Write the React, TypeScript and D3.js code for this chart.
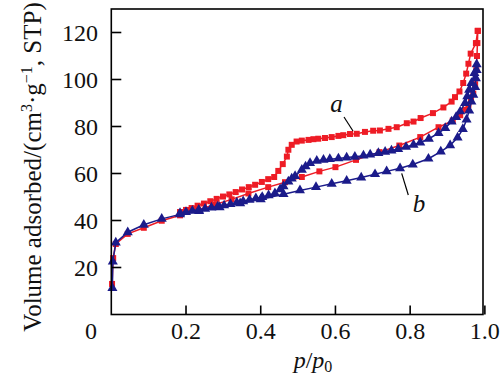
import React from "react";
import * as d3 from "d3";

// Sample a – adsorption branch
const aAdsX = [0.002, 0.005, 0.012, 0.044, 0.087, 0.135, 0.184, 0.23, 0.278, 0.322, 0.367, 0.42, 0.465, 0.51, 0.557, 0.6, 0.655, 0.718, 0.771, 0.827, 0.876, 0.914, 0.934, 0.947, 0.956, 0.963, 0.969, 0.974, 0.977, 0.979, 0.98, 0.981];
const aAdsY = [13, 24, 30, 34.3, 36.9, 39.9, 42.2, 44.5, 46.8, 49, 51.5, 54.2, 56.3, 58.5, 60.9, 62.7, 65.8, 69.1, 71.9, 75.5, 79.7, 82.5, 84.8, 87.1, 89.2, 91.3, 94, 98, 104, 110, 115.5, 120.7];
// Sample a – desorption branch
const aDesX = [0.981, 0.976, 0.962, 0.956, 0.95, 0.942, 0.932, 0.92, 0.911, 0.889, 0.861, 0.828, 0.809, 0.791, 0.764, 0.742, 0.719, 0.701, 0.679, 0.657, 0.639, 0.621, 0.608, 0.59, 0.572, 0.554, 0.541, 0.528, 0.51, 0.496, 0.483, 0.474, 0.47, 0.459, 0.447, 0.436, 0.42, 0.403, 0.385, 0.368, 0.35, 0.333, 0.316, 0.299, 0.282, 0.265, 0.248, 0.231, 0.215, 0.2, 0.184];
const aDesY = [120.7, 115.5, 111, 106.7, 102.5, 98.5, 94.9, 92.5, 90.6, 88.1, 85.7, 83.6, 82.1, 81.4, 79.7, 79, 78.3, 78.2, 77.7, 76.9, 76.8, 76.3, 76, 75.5, 75.1, 74.8, 74.6, 74.3, 74, 73.6, 72.2, 70.1, 67.2, 64, 61.1, 58.5, 57.6, 56.4, 55.2, 54.2, 53.2, 52.1, 51.1, 50.2, 49.2, 48.2, 47.2, 46.3, 45.3, 44.5, 43.6];

// Sample b – adsorption branch
const bAdsX = [0.003, 0.004, 0.012, 0.044, 0.087, 0.135, 0.184, 0.235, 0.29, 0.345, 0.4, 0.461, 0.505, 0.548, 0.59, 0.63, 0.669, 0.706, 0.737, 0.773, 0.807, 0.849, 0.882, 0.907, 0.927, 0.941, 0.951, 0.958, 0.964, 0.969, 0.974, 0.976, 0.978];
const bAdsY = [11.2, 22.5, 30.6, 35, 38.2, 40.7, 42.6, 44, 45.6, 47.3, 49, 51.2, 52.8, 54.2, 55.6, 56.9, 58.3, 59.7, 60.9, 62.2, 63.8, 66.3, 69.3, 72, 75.3, 78.9, 82.9, 86.8, 90.6, 93.5, 96.8, 100.5, 104];
// Sample b – desorption branch
const bDesX = [0.978, 0.972, 0.964, 0.958, 0.953, 0.947, 0.934, 0.923, 0.911, 0.894, 0.876, 0.85, 0.827, 0.809, 0.789, 0.768, 0.75, 0.733, 0.715, 0.693, 0.675, 0.652, 0.63, 0.608, 0.585, 0.568, 0.55, 0.532, 0.52, 0.51, 0.492, 0.483, 0.474, 0.461, 0.452, 0.438, 0.421, 0.404, 0.387, 0.37, 0.353, 0.336, 0.319, 0.302, 0.285, 0.268, 0.251, 0.234, 0.217, 0.2, 0.184];
const bDesY = [106.5, 102.7, 98.5, 95.6, 92.8, 90, 86.4, 84, 82.1, 79.3, 77.2, 74.8, 73.2, 72.2, 71.3, 70.4, 69.8, 69.2, 68.7, 68.1, 67.6, 67.1, 66.8, 66.4, 66.1, 65.8, 65.4, 64.4, 63, 61.6, 58.9, 57.8, 56.6, 54.5, 53.3, 51.6, 50.7, 50, 49.4, 48.8, 48.2, 47.6, 47, 46.4, 45.9, 45.5, 45, 44.5, 44.1, 43.6, 43.2];

const xTicks = [0.2, 0.4, 0.6, 0.8, 1.0];
const yTicks = [20, 40, 60, 80, 100, 120];

const RED = "#ee1c25";
const BLUE = "#1b1b8a";

const W = 500;
const H = 382;
const L = 111.3;
const R = 483;
const T = 9;
const B = 314.5;

export default function App() {
  const x = d3.scaleLinear().domain([0, 0.995]).range([L, R]);
  const y = d3.scaleLinear().domain([0, 130]).range([B, T]);
  const zip = (xs: number[], ys: number[]) => xs.map((v, i) => [v, ys[i]] as [number, number]);
  const line = d3.line<[number, number]>().x((d) => x(d[0])).y((d) => y(d[1]));
  const sq = d3.symbol(d3.symbolSquare, 36)();
  const tri = d3.symbol(d3.symbolTriangle, 44)();

  const series = [
    { data: zip(aAdsX, aAdsY), color: RED, shape: sq },
    { data: zip(aDesX, aDesY), color: RED, shape: sq },
    { data: zip(bAdsX, bAdsY), color: BLUE, shape: tri },
    { data: zip(bDesX, bDesY), color: BLUE, shape: tri },
  ];

  const font = "'Liberation Serif', 'Times New Roman', serif";

  return (
    <svg width={W} height={H} style={{ position: "absolute", left: 0, top: 0, background: "#fff" }} fontFamily={font}>
      <rect x={0} y={0} width={W} height={H} fill="#fff" />
      {series.map((s, i) => (
        <g key={i}>
          <path d={line(s.data) || ""} fill="none" stroke={s.color} strokeWidth={1.5} />
          {s.data.map((d, j) => (
            <path key={j} d={s.shape || ""} transform={`translate(${x(d[0])},${y(d[1])})`} fill={s.color} />
          ))}
        </g>
      ))}
      {/* frame */}
      <rect x={L} y={T} width={R - L} height={B - T} fill="none" stroke="#000" strokeWidth={1.6} />
      {/* y ticks */}
      {yTicks.map((t) => (
        <g key={t}>
          <line x1={L} x2={L + 10} y1={y(t)} y2={y(t)} stroke="#000" strokeWidth={1.6} />
          <text x={98} y={y(t)} dy="0.35em" textAnchor="end" fontSize={24} fill="#111">
            {t}
          </text>
        </g>
      ))}
      <text x={97} y={339} textAnchor="end" fontSize={24} fill="#111">0</text>
      {/* x ticks */}
      {xTicks.map((t) => (
        <g key={t}>
          <line x1={x(t)} x2={x(t)} y1={B} y2={B - 9} stroke="#000" strokeWidth={1.6} />
          <text x={x(t)} y={339} textAnchor="middle" fontSize={24} fill="#111">
            {t.toFixed(1)}
          </text>
        </g>
      ))}
      {/* x label */}
      <text x={313} y={368} textAnchor="middle" fontSize={24} fill="#111">
        <tspan fontStyle="italic">p</tspan>
        <tspan>/</tspan>
        <tspan fontStyle="italic">p</tspan>
        <tspan fontSize={16} dy={4}>0</tspan>
      </text>
      {/* y label */}
      <text transform="translate(40.5,167) rotate(-90)" textAnchor="middle" fontSize={25} fill="#111">
        <tspan>Volume adsorbed/(cm</tspan>
        <tspan fontSize={16} dy={-9}>3</tspan>
        <tspan dy={9}>·g</tspan>
        <tspan fontSize={16} dy={-9}>−1</tspan>
        <tspan dy={9}>, STP)</tspan>
      </text>
      {/* annotations */}
      <line x1={344} y1={117} x2={353} y2={131} stroke="#000" strokeWidth={1.2} />
      <text x={336.5} y={112} textAnchor="middle" fontSize={25} fontStyle="italic" fill="#111">a</text>
      <line x1={401.7} y1={173.3} x2={408.3} y2={195} stroke="#000" strokeWidth={1.2} />
      <text x={419} y={212} textAnchor="middle" fontSize={25} fontStyle="italic" fill="#111">b</text>
    </svg>
  );
}
